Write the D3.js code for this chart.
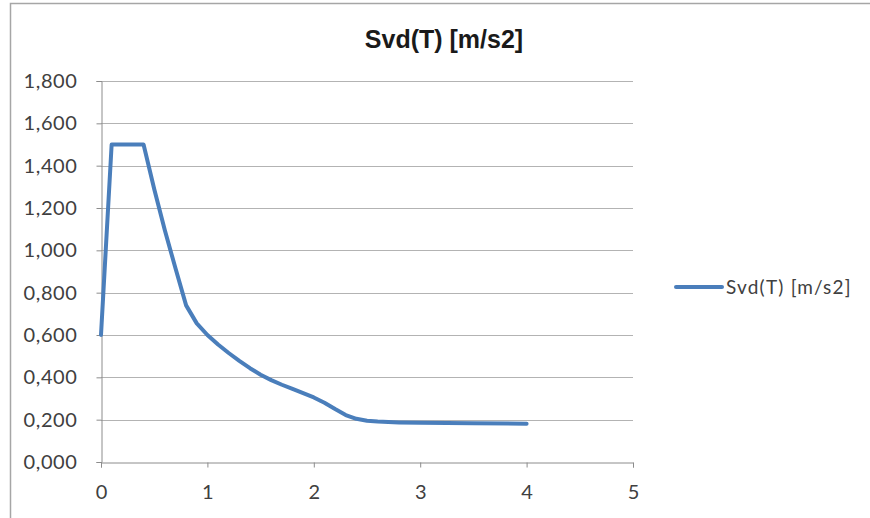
<!DOCTYPE html>
<html>
<head>
<meta charset="utf-8">
<script src="https://cdn.jsdelivr.net/npm/d3@7"></script>
<style>
  html, body { margin: 0; padding: 0; background: #fff; }
  svg { display: block; }
</style>
</head>
<body>
<svg id="chart" width="870" height="518"></svg>
<script>
// Design spectrum Svd(T)
const periods = [0, 0.1, 0.2, 0.3, 0.4, 0.5, 0.6, 0.7, 0.8, 0.9, 1.0, 1.1, 1.2, 1.3, 1.4, 1.5, 1.6, 1.7, 1.8, 1.9, 2.0, 2.1, 2.2, 2.3, 2.4, 2.5, 2.6, 2.8, 3.0, 3.5, 4.0];
const svdValues = [0.600, 1.500, 1.500, 1.500, 1.500, 1.290, 1.095, 0.915, 0.740, 0.655, 0.600, 0.555, 0.515, 0.478, 0.443, 0.412, 0.387, 0.365, 0.345, 0.325, 0.305, 0.280, 0.250, 0.222, 0.204, 0.195, 0.191, 0.187, 0.185, 0.183, 0.181];
const yTicks = [0, 0.2, 0.4, 0.6, 0.8, 1.0, 1.2, 1.4, 1.6, 1.8];
const xTicks = [0, 1, 2, 3, 4, 5];
const seriesName = "Svd(T) [m/s2]";

const svg = d3.select("#chart");
const fontBody = "Lato, 'Open Sans', sans-serif";

// outer chart frame
svg.append("rect")
  .attr("x", 10.5).attr("y", 3.5)
  .attr("width", 880).attr("height", 540)
  .attr("fill", "#fff")
  .attr("stroke", "#a6a6a6").attr("stroke-width", 1.5);

const plot = { left: 101, right: 633, top: 81, bottom: 462 };

const x = d3.scaleLinear().domain([0, 5]).range([plot.left, plot.right]);
const y = d3.scaleLinear().domain([0, 1.8]).range([plot.bottom, plot.top]);

const fmt = v => d3.format(".3f")(v).replace(".", ",");

// horizontal gridlines
svg.append("g")
  .selectAll("line")
  .data(yTicks.filter(d => d > 0))
  .join("line")
  .attr("x1", plot.left).attr("x2", plot.right)
  .attr("y1", d => Math.round(y(d)) + 0.5).attr("y2", d => Math.round(y(d)) + 0.5)
  .attr("stroke", "#b3b3b3").attr("stroke-width", 1);

// y axis
const yAxis = svg.append("g")
  .attr("transform", `translate(${plot.left + 0.5},0)`)
  .call(d3.axisLeft(y).tickValues(yTicks).tickFormat(fmt).tickSize(5).tickPadding(19));
yAxis.select(".domain").attr("stroke", "#8c8c8c");
yAxis.selectAll(".tick line").attr("stroke", "#8c8c8c");
yAxis.selectAll("text")
  .attr("font-family", fontBody).attr("font-size", 20)
  .attr("letter-spacing", 0.6).attr("fill", "#404040");

// x axis
const xAxis = svg.append("g")
  .attr("transform", `translate(0,${plot.bottom + 0.5})`)
  .call(d3.axisBottom(x).tickValues(xTicks).tickFormat(d3.format("d")).tickSize(5).tickPadding(17));
xAxis.select(".domain").attr("stroke", "#8c8c8c");
xAxis.selectAll(".tick line").attr("stroke", "#8c8c8c");
xAxis.selectAll("text")
  .attr("font-family", fontBody).attr("font-size", 20).attr("fill", "#404040");

// spectrum line
const data = periods.map((t, i) => ({ t, v: svdValues[i] }));
const line = d3.line()
  .x(d => x(d.t))
  .y(d => y(d.v))
  .curve(d3.curveLinear);

svg.append("path")
  .datum(data)
  .attr("d", line)
  .attr("fill", "none")
  .attr("stroke", "#4a7ebb")
  .attr("stroke-width", 4)
  .attr("stroke-linejoin", "round")
  .attr("stroke-linecap", "round");

// title
svg.append("text")
  .attr("x", 444).attr("y", 48)
  .attr("text-anchor", "middle")
  .attr("font-family", "'Liberation Sans', Arial, sans-serif")
  .attr("font-weight", "bold")
  .attr("font-size", 25)
  .attr("fill", "#1a1a1a")
  .text(seriesName);

// legend
const legend = svg.append("g").attr("transform", "translate(676,287)");
legend.append("line")
  .attr("x1", 0).attr("x2", 46).attr("y1", 0).attr("y2", 0)
  .attr("stroke", "#4a7ebb").attr("stroke-width", 4).attr("stroke-linecap", "round");
legend.append("text")
  .attr("x", 50).attr("y", 7)
  .attr("font-family", fontBody).attr("font-size", 19)
  .attr("letter-spacing", 1.2)
  .attr("fill", "#404040")
  .text(seriesName);
</script>
</body>
</html>
